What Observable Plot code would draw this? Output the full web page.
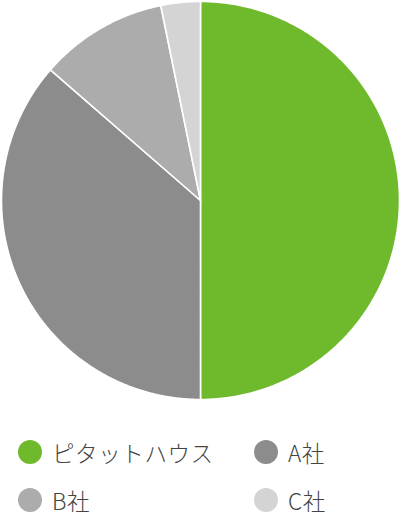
<!DOCTYPE html>
<html><head><meta charset="utf-8">
<script src="https://cdn.jsdelivr.net/npm/d3@7"></script>
<script src="https://cdn.jsdelivr.net/npm/@observablehq/plot@0.6"></script>
<style>
html,body{margin:0;padding:0;background:#fff;}
body{width:400px;height:512px;overflow:hidden;font-family:"Noto Sans CJK JP","Noto Sans",sans-serif;}
#chart svg{display:block;}
#legend{display:grid;grid-template-columns:236px 146px;grid-auto-rows:48px;padding:28px 0 0 18px;margin:0;}
.item{display:flex;align-items:center;height:48px;}
.sw{width:24px;height:24px;border-radius:50%;flex:none;margin-right:10px;}
.lab{font-size:22.5px;color:#444;letter-spacing:0.6px;line-height:1;white-space:nowrap;font-weight:300;}
</style></head><body>
<div id="chart"></div>
<div id="legend"></div>
<script>
const companies = ["ピタットハウス", "A社", "B社", "C社"];
const shares = [50, 36.4, 10.4, 3.2];
const colors = ["#6fba2c", "#8c8c8c", "#acacac", "#d4d4d4"];

const arcs = d3.pie().sort(null)(shares);
const features = arcs.map((a, i) => {
  const span = a.endAngle - a.startAngle;
  const steps = Math.max(2, Math.ceil(span / (Math.PI / 360)));
  const ring = [[0, 0]];
  for (let k = 0; k <= steps; k++) {
    const t = a.startAngle + span * k / steps;
    ring.push([Math.sin(t), -Math.cos(t)]);
  }
  ring.push([0, 0]);
  return {type: "Feature", properties: {name: companies[i]}, geometry: {type: "Polygon", coordinates: [ring]}};
});
const fc = {type: "FeatureCollection", features};

const chart = Plot.plot({
  width: 400,
  height: 400,
  margin: 0,
  projection: {type: "identity", domain: fc, inset: 1},
  color: {domain: companies, range: colors},
  marks: [
    Plot.geo(features, {fill: d => d.properties.name, stroke: "white", strokeWidth: 1.6, strokeLinejoin: "round"})
  ]
});
document.getElementById("chart").appendChild(chart);

const legend = document.getElementById("legend");
companies.forEach((c, i) => {
  const item = document.createElement("div");
  item.className = "item";
  const sw = document.createElement("span");
  sw.className = "sw";
  sw.style.background = colors[i];
  const lab = document.createElement("span");
  lab.className = "lab";
  lab.textContent = c;
  item.appendChild(sw);
  item.appendChild(lab);
  legend.appendChild(item);
});
</script>
</body></html>
